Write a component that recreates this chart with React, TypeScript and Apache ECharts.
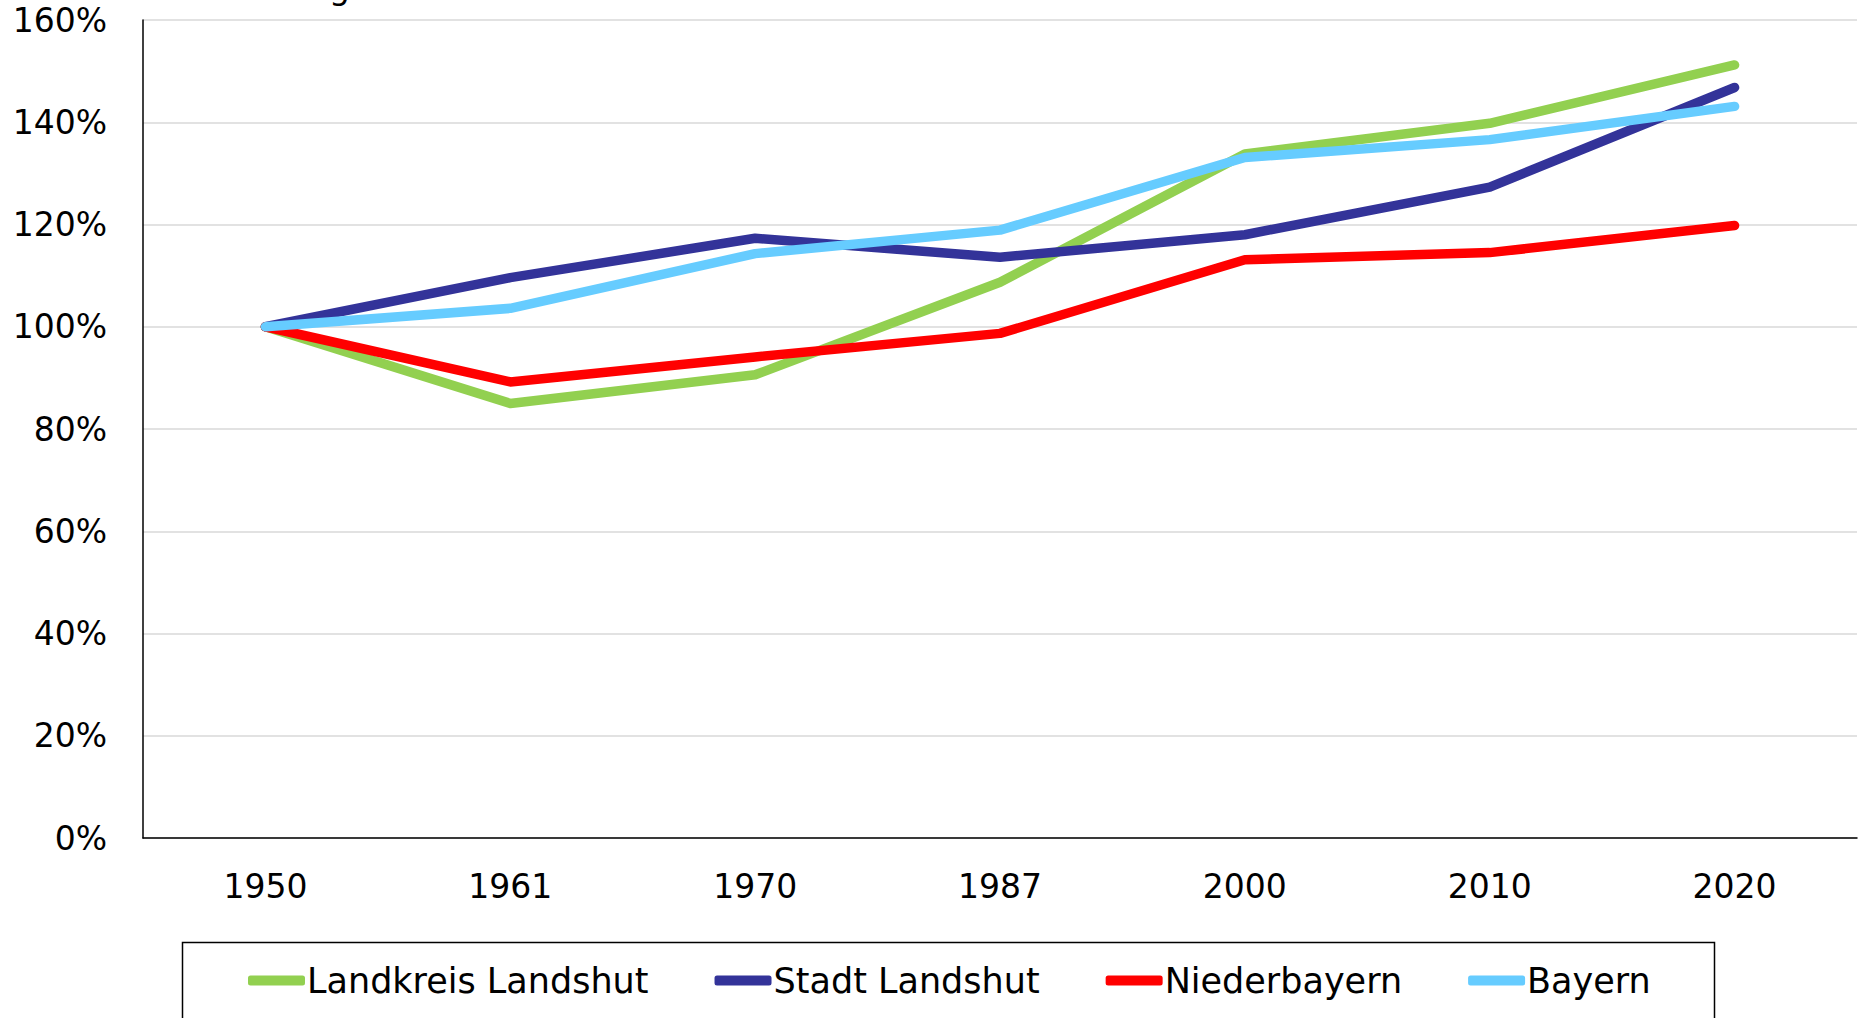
import React, { useEffect, useRef } from "react";
import * as echarts from "echarts";

const years = ["1950", "1961", "1970", "1987", "2000", "2010", "2020"];
const landkreis = [100, 85.0, 90.6, 108.7, 133.8, 139.8, 151.2];
const stadt = [100, 109.6, 117.3, 113.6, 118.0, 127.3, 146.8];
const niederbayern = [100, 89.2, 94.1, 98.7, 113.1, 114.5, 119.8];
const bayern = [100, 103.6, 114.3, 118.9, 133.1, 136.6, 143.1];
const seriesNames = ["Landkreis Landshut", "Stadt Landshut", "Niederbayern", "Bayern"];
const seriesColors = ["#92D050", "#333399", "#FF0000", "#66CCFF"];
const titleText = "Entwicklung der Einwohnerzahl seit 1950";

const FONT = "DejaVu Sans";

export default function App() {
  const ref = useRef<HTMLDivElement>(null);
  useEffect(() => {
    document.body.style.margin = "0";
    const chart = echarts.init(ref.current!, null, { renderer: "svg" });
    const data = [landkreis, stadt, niederbayern, bayern];
    chart.setOption({
      animation: false,
      backgroundColor: "#FFFFFF",
      textStyle: { fontFamily: FONT },
      grid: { left: 143, right: 3, top: 20, bottom: 180, containLabel: false },
      xAxis: {
        type: "category",
        data: years,
        boundaryGap: true,
        axisLine: { show: true, lineStyle: { color: "#000000", width: 1.5 } },
        axisTick: { show: false },
        axisLabel: { color: "#000000", fontSize: 33, fontFamily: FONT, margin: 32 },
        splitLine: { show: false },
      },
      yAxis: {
        type: "value",
        min: 0,
        max: 160,
        interval: 20,
        axisLine: { show: true, lineStyle: { color: "#000000", width: 1.5 } },
        axisTick: { show: false },
        axisLabel: {
          color: "#000000",
          fontSize: 33,
          fontFamily: FONT,
          margin: 36,
          formatter: "{value}%",
        },
        splitLine: { show: true, lineStyle: { color: "#D9D9D9", width: 1.5 } },
      },
      legend: {
        left: 248,
        top: 963,
        padding: 0,
        itemWidth: 57,
        itemHeight: 10,
        itemGap: 66,
        icon: "roundRect",
        textStyle: { color: "#000000", fontSize: 35, fontFamily: FONT, padding: [0, 0, 0, -3] },
        data: seriesNames,
      },
      graphic: [
        {
          type: "rect",
          left: 180,
          top: 940,
          shape: { x: 0, y: 0, width: 1532, height: 120 },
          style: { fill: "none", stroke: "#000000", lineWidth: 1.5 },
          silent: true,
        },
        {
          type: "text",
          x: 150,
          y: -13,
          style: {
            text: titleText,
            fill: "#000000",
            fontSize: 33,
            fontFamily: FONT,
            verticalAlign: "middle",
          },
          silent: true,
        },
      ],
      series: seriesNames.map((name, i) => ({
        name,
        type: "line",
        data: data[i],
        symbol: "none",
        color: seriesColors[i],
        lineStyle: { width: 9.5, color: seriesColors[i], cap: "round", join: "round" },
      })),
    });
    return () => chart.dispose();
  }, []);
  return (
    <div
      ref={ref}
      style={{ position: "absolute", left: 0, top: 0, width: 1860, height: 1018 }}
    />
  );
}
